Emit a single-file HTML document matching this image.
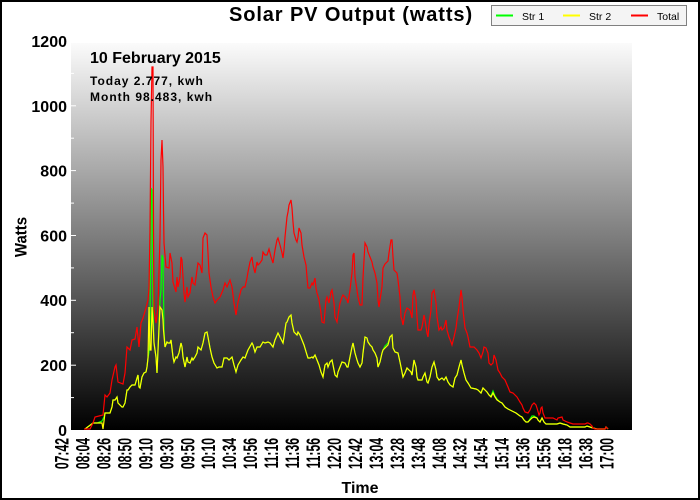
<!DOCTYPE html>
<html><head><meta charset="utf-8"><style>
html,body{margin:0;padding:0;background:#fff;}
svg{display:block;}
text{font-family:"Liberation Sans",Arial,sans-serif;fill:#000;}
</style></head><body>
<svg width="700" height="500" viewBox="0 0 700 500" xmlns="http://www.w3.org/2000/svg">
<defs>
<linearGradient id="bg" x1="0" y1="0" x2="0" y2="1">
<stop offset="0" stop-color="#fbfbfb"/>
<stop offset="1" stop-color="#000000"/>
</linearGradient>
</defs>
<rect x="0" y="0" width="700" height="500" fill="#fff"/>
<rect x="71" y="43" width="561" height="387" fill="url(#bg)"/>

<!-- title -->
<text x="351" y="21" text-anchor="middle" font-size="20" font-weight="bold" letter-spacing="0.9">Solar PV Output (watts)</text>

<!-- legend -->
<rect x="491.5" y="5.5" width="195" height="20" fill="#f4f4f4" stroke="#808080" stroke-width="1"/>
<line x1="496" y1="15.5" x2="513" y2="15.5" stroke="#00ff00" stroke-width="2"/>
<text x="522" y="20" font-size="10.5">Str 1</text>
<line x1="563" y1="15.5" x2="580" y2="15.5" stroke="#ffff00" stroke-width="2"/>
<text x="589" y="20" font-size="10.5">Str 2</text>
<line x1="631" y1="15.5" x2="648" y2="15.5" stroke="#ff0000" stroke-width="2"/>
<text x="657" y="20" font-size="10.5">Total</text>

<!-- y axis labels -->
<g font-size="16" font-weight="bold" text-anchor="end">
<text x="67" y="436">0</text>
<text x="67" y="371">200</text>
<text x="67" y="306">400</text>
<text x="67" y="241.5">600</text>
<text x="67" y="176.5">800</text>
<text x="67" y="112">1000</text>
<text x="67" y="47">1200</text>
</g>
<!-- y ticks -->
<g stroke="#ffffff" stroke-width="1">
<line x1="71" y1="397.6" x2="74" y2="397.6"/>
<line x1="71" y1="365.2" x2="76" y2="365.2"/>
<line x1="71" y1="332.7" x2="74" y2="332.7"/>
<line x1="71" y1="300.3" x2="76" y2="300.3"/>
<line x1="71" y1="267.9" x2="74" y2="267.9"/>
<line x1="71" y1="235.5" x2="76" y2="235.5"/>
<line x1="71" y1="203.1" x2="74" y2="203.1"/>
<line x1="71" y1="170.6" x2="76" y2="170.6"/>
<line x1="71" y1="138.2" x2="74" y2="138.2"/>
<line x1="71" y1="105.8" x2="76" y2="105.8"/>
<line x1="71" y1="73.4" x2="74" y2="73.4"/>
</g>

<!-- axis titles -->
<text transform="translate(26.5,237) rotate(-90) scale(0.88,1)" text-anchor="middle" font-size="17" font-weight="bold">Watts</text>
<text x="360" y="493" text-anchor="middle" font-size="16" font-weight="bold">Time</text>

<!-- x labels -->
<g font-size="19" font-weight="bold" text-anchor="end">
<text transform="translate(68.5,438) rotate(-90) scale(0.64,1)">07:42</text>
<text transform="translate(89.5,438) rotate(-90) scale(0.64,1)">08:04</text>
<text transform="translate(110.4,438) rotate(-90) scale(0.64,1)">08:26</text>
<text transform="translate(131.4,438) rotate(-90) scale(0.64,1)">08:50</text>
<text transform="translate(152.3,438) rotate(-90) scale(0.64,1)">09:10</text>
<text transform="translate(173.3,438) rotate(-90) scale(0.64,1)">09:30</text>
<text transform="translate(194.3,438) rotate(-90) scale(0.64,1)">09:50</text>
<text transform="translate(215.2,438) rotate(-90) scale(0.64,1)">10:10</text>
<text transform="translate(236.2,438) rotate(-90) scale(0.64,1)">10:34</text>
<text transform="translate(257.1,438) rotate(-90) scale(0.64,1)">10:56</text>
<text transform="translate(278.1,438) rotate(-90) scale(0.64,1)">11:16</text>
<text transform="translate(299.1,438) rotate(-90) scale(0.64,1)">11:36</text>
<text transform="translate(320,438) rotate(-90) scale(0.64,1)">11:56</text>
<text transform="translate(341,438) rotate(-90) scale(0.64,1)">12:20</text>
<text transform="translate(361.9,438) rotate(-90) scale(0.64,1)">12:42</text>
<text transform="translate(382.9,438) rotate(-90) scale(0.64,1)">13:04</text>
<text transform="translate(403.9,438) rotate(-90) scale(0.64,1)">13:28</text>
<text transform="translate(424.8,438) rotate(-90) scale(0.64,1)">13:48</text>
<text transform="translate(445.8,438) rotate(-90) scale(0.64,1)">14:08</text>
<text transform="translate(466.7,438) rotate(-90) scale(0.64,1)">14:32</text>
<text transform="translate(487.7,438) rotate(-90) scale(0.64,1)">14:54</text>
<text transform="translate(508.7,438) rotate(-90) scale(0.64,1)">15:14</text>
<text transform="translate(529.6,438) rotate(-90) scale(0.64,1)">15:36</text>
<text transform="translate(550.6,438) rotate(-90) scale(0.64,1)">15:56</text>
<text transform="translate(571.5,438) rotate(-90) scale(0.64,1)">16:18</text>
<text transform="translate(592.5,438) rotate(-90) scale(0.64,1)">16:38</text>
<text transform="translate(613.5,438) rotate(-90) scale(0.64,1)">17:00</text>
</g>

<!-- series: Str 1 (green) -->
<polyline fill="none" stroke="#00ff00" stroke-width="1.2" stroke-linejoin="miter" points="85,429 93,423 97,423 102,421 104,417 105,413 110,413 112,407 113,400 115,400 117,397 118,403 122,407 123,407 125,403 127,390 128,390 130,387 132,385 135,385 137,378 138,375 139,387 140,388 142,377 144,373 146,372 147,367 148,358 149,352 150,330 151,188 152,190 153,307 154,343 156,357 157,373 158,350 160,300 161,290 162,255 163,258 164,330 165,347 167,342 168,343 170,343 171,340 173,357 174,362 176,357 177,358 179,353 181,343 182,347 183,357 185,367 187,357 188,362 190,363 192,358 193,360 195,357 197,353 198,347 201,350 203,343 205,333 207,332 208,337 210,348 212,357 214,363 217,368 219,367 222,367 224,358 227,358 229,360 232,357 234,365 236,372 238,365 241,360 243,357 245,358 248,350 252,343 253,345 255,352 257,347 260,347 263,342 265,343 268,342 270,343 273,347 275,340 278,333 280,337 283,343 284,337 286,323 287,322 289,317 291,315 292,323 294,332 297,335 298,332 300,335 302,340 304,345 307,355 308,358 310,358 312,357 313,358 315,355 317,360 319,365 321,372 323,377 325,365 327,363 328,367 330,362 332,360 333,365 335,375 337,377 338,372 340,367 342,362 345,363 347,367 348,367 350,357 352,347 353,343 355,353 357,360 358,363 360,367 362,363 363,353 365,337 367,338 368,342 370,345 372,347 373,350 375,353 377,358 378,367 380,362 382,353 383,350 385,346 388,343 390,337 392,335 393,348 395,352 398,353 400,362 402,372 403,377 405,373 407,368 409,370 411,372 412,375 414,360 416,367 417,377 418,380 422,380 423,377 425,373 427,382 428,383 430,377 432,367 434,362 436,370 437,377 439,380 442,378 444,380 446,377 448,382 450,385 453,387 455,378 457,375 459,367 461,360 462,365 464,373 466,380 468,383 471,388 476,389 478,390 481,393 483,388 485,390 487,392 489,395 491,396 493,391 495,396 497,399 500,402 502,403 505,407 508,409 512,411 516,413 520,416 522,417 524,420 526,422 528,422 530,419 532,416 534,416 537,418 538,420 540,422 541,420 542,418 544,422 546,424 557,424 560,423 563,424 567,425 570,427 585,427 587,426 590,427 593,428 597,429 605,429 606,427 608,429"/>

<!-- series: Str 2 (yellow) -->
<polyline fill="none" stroke="#ffff00" stroke-width="1.2" stroke-linejoin="miter" points="85,429 93,423 97,423 102,423 103,429 105,413 110,413 112,407 113,400 115,400 117,397 118,403 122,407 123,407 125,403 127,390 128,390 130,387 132,385 135,385 137,378 138,375 139,387 140,388 142,377 144,373 146,372 147,367 148,358 149,307 150,350 151,350 152,307 153,323 154,343 156,357 157,373 158,350 160,307 162,310 163,320 163.5,330 165,347 167,342 168,343 170,343 171,340 173,357 174,362 176,357 177,358 179,353 181,343 182,347 183,357 185,367 187,357 188,362 190,363 192,358 193,360 195,357 197,353 198,347 201,350 203,343 205,333 207,332 208,337 210,348 212,357 214,363 217,368 219,367 222,367 224,358 227,358 229,360 232,357 234,365 236,372 238,365 241,360 243,357 245,358 248,350 252,343 253,345 255,352 257,347 260,347 263,342 265,343 268,342 270,343 273,347 275,340 278,333 280,337 283,343 284,337 286,323 287,322 289,317 291,315 292,323 294,332 297,335 298,332 300,335 302,340 304,345 307,355 308,358 310,358 312,357 313,358 315,355 317,360 319,365 321,372 323,377 325,365 327,363 328,367 330,362 332,360 333,365 335,375 337,377 338,372 340,367 342,362 345,363 347,367 348,367 350,357 352,347 353,343 355,353 357,360 358,363 360,367 362,363 363,353 365,337 367,338 368,342 370,345 372,347 373,350 375,353 377,358 378,367 380,362 382,353 383,350 385,348 388,345 390,337 392,335 393,348 395,352 398,353 400,362 402,372 403,377 405,373 407,368 409,370 411,372 412,375 414,360 416,367 417,377 418,380 422,380 423,377 425,373 427,382 428,383 430,377 432,367 434,362 436,370 437,377 439,380 442,378 444,380 446,377 448,382 450,385 453,387 455,378 457,375 459,367 461,360 462,365 464,373 466,380 468,383 471,388 476,389 478,390 481,393 483,388 485,390 487,392 489,395 491,397 493,393 495,397 497,400 500,402 502,403 505,407 508,409 512,411 516,413 520,416 522,417 524,420 526,422 528,422 530,420 532,418 534,417 537,418 538,420 540,422 541,420 542,418 544,422 546,424 557,424 560,423 563,424 567,425 570,427 585,427 587,426 590,427 593,428 597,429 605,429 606,427 608,429"/>

<!-- series: Total (red) -->
<polyline fill="none" stroke="#ff0000" stroke-width="1.2" stroke-linejoin="miter" points="84,429 90,429 93,423 95,417 103,415 105,395 107,397 110,393 112,380 115,367 116,365 118,382 123,384 125,373 127,347 130,350 132,340 135,339 137,327 139,347 141,323 143,318 146,308 148,300 149,288 150,230 151,122 152,67 153,67 153.5,230 154,310 156,323 158,307 160,237 161,160 162,140 163,167 163.5,210 164,243 166,267 169,268 170,253 172,263 173,282 176,292 177,277 178,287 180,277 181,257 182,260 183,277 184,293 185,302 187,287 188,297 190,293 192,277 193,283 195,285 197,270 198,263 200,265 202,273 203,238 205,233 207,235 208,253 209,273 211,287 213,297 215,303 217,300 220,297 223,290 225,283 227,287 230,280 232,287 234,303 236,315 238,302 241,290 243,287 245,287 247,278 248,272 250,262 252,257 253,265 255,273 257,262 258,265 260,263 262,260 263,252 265,255 267,255 268,252 269,249 271,257 273,263 275,250 277,240 278,238 280,245 282,253 283,258 284,250 285,237 287,217 288,212 289,205 291,200 292,208 293,222 294,233 296,240 297,242 298,237 299,228 301,233 302,245 304,257 306,265 307,277 308,288 310,288 312,283 313,285 315,278 316,288 317,293 319,300 321,313 322,322 324,323 326,300 327,297 329,303 331,292 332,290 334,303 335,317 337,322 338,315 340,303 342,297 343,295 345,297 347,300 348,303 350,290 352,273 353,255 354,253 355,277 357,290 358,297 360,305 362,305 363,278 365,243 367,247 368,252 370,257 372,262 373,267 375,273 377,283 378,300 379,307 380,300 382,287 383,268 385,264 388,261 389,253 391,240 392,240 393,257 394,270 397,273 398,280 400,297 401,317 402,320 403,325 405,313 407,308 410,310 412,318 413,295 414,290 416,300 417,317 418,330 421,330 422,327 424,315 425,320 427,333 428,337 429,325 431,310 432,293 434,290 436,303 437,317 439,330 441,327 442,330 444,328 446,320 447,330 449,337 451,342 452,345 454,337 456,328 457,320 459,307 461,290 462,297 463,310 465,328 467,333 468,337 470,347 474,347 477,350 479,353 481,358 483,352 484,347 486,348 488,353 489,363 491,365 493,363 494,355 496,360 498,370 500,373 502,377 505,380 508,387 510,392 513,393 517,397 520,402 522,405 523,408 525,412 528,413 530,410 532,405 534,403 536,405 537,408 539,415 540,413 541,408 542,407 543,413 545,418 550,418 553,418 557,420 558,418 562,417 563,420 567,422 570,423 573,424 585,424 587,423 588,423 590,424 592,426 593,428 595,429 605,429 606,427 608,429"/>

<!-- info text -->
<text x="90" y="63" font-size="16" font-weight="bold">10 February 2015</text>
<text x="90" y="85" font-size="12" font-weight="bold" letter-spacing="1">Today 2.777, kwh</text>
<text x="90" y="101" font-size="12" font-weight="bold" letter-spacing="1">Month 98.483, kwh</text>

<!-- outer frame -->
<rect x="1" y="1" width="698" height="498" fill="none" stroke="#000" stroke-width="2"/>
</svg>
</body></html>
